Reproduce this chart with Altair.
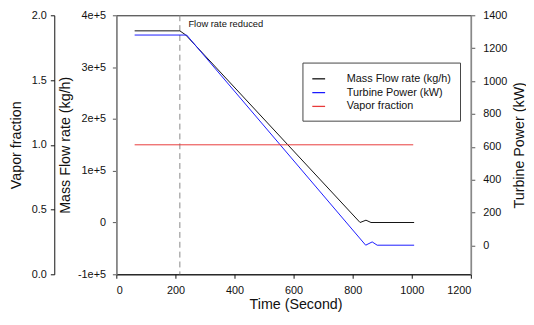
import altair as alt
import pandas as pd

# ---- data ----
series_names = ["Mass Flow rate (kg/h)", "Turbine Power (kW)", "Vapor fraction"]
series_colors = ["#111111", "#1a1aff", "#e83a3a"]

mass_time = [62, 215, 235, 825, 845, 862, 1008]
mass_flow = [370000, 370000, 362000, 0, 4500, 0, 0]

power_time = [62, 238, 844, 866, 883, 1008]
power_kw = [1280, 1280, 2, 22, 2, 2]

vapor_time = [62, 1005]
vapor_frac = [1.0, 1.0]

event_time = [215]
event_label = ["Flow rate reduced"]
event_text_time = [244]

x_ticks = [0, 200, 400, 600, 800, 1000, 1200]
mass_ticks = [-100000, 0, 100000, 200000, 300000, 400000]
vapor_ticks = [0.0, 0.5, 1.0, 1.5, 2.0]
power_ticks = [0, 200, 400, 600, 800, 1000, 1200, 1400]

df_mass = pd.DataFrame({"t": mass_time, "v": mass_flow, "series": series_names[0]})
df_power = pd.DataFrame({"t": power_time, "v": power_kw, "series": series_names[1]})
df_vapor = pd.DataFrame({"t": vapor_time, "v": vapor_frac, "series": series_names[2]})
df_event = pd.DataFrame({"t": event_time})
df_text = pd.DataFrame({"t": event_text_time, "label": event_label})

FONT = "Liberation Sans"
H = 263

x_enc = alt.X(
    "t:Q",
    scale=alt.Scale(domain=[0, 1200], nice=False),
    axis=alt.Axis(
        values=x_ticks, format="d", title="Time (Second)", grid=False,
        domainColor="#111", tickColor="#111", tickSize=4, labelPadding=7,
        titleBaseline="middle", titleX=182, titleY=31,
    ),
)

color_enc = alt.Color(
    "series:N",
    scale=alt.Scale(domain=series_names, range=series_colors),
    legend=alt.Legend(
        title=None, orient="none", legendX=189, legendY=48,
        symbolType="stroke", symbolSize=169, symbolStrokeWidth=1.3,
        strokeColor="#444", fillColor="white", padding=9,
        labelFontSize=11, labelFont=FONT, labelColor="#111",
        rowPadding=1, labelOffset=21,
    ),
)

mass = alt.Chart(df_mass).mark_line(strokeWidth=1).encode(
    x=x_enc,
    y=alt.Y(
        "v:Q",
        scale=alt.Scale(domain=[-100000, 400000], nice=False, zero=False),
        axis=alt.Axis(
            orient="left", values=mass_ticks, grid=False,
            title="Mass Flow rate (kg/h)",
            labelExpr="datum.value == 0 ? '0' : (datum.value < 0 ? '-' : '') + format(abs(datum.value), '.0e')",
            domainColor="#888", domainWidth=1.6, tickColor="#555", tickSize=4,
            labelPadding=7, titleBaseline="middle", titleX=-52, titleY=H / 2,
        ),
    ),
    color=color_enc,
)

power = alt.Chart(df_power).mark_line(strokeWidth=1).encode(
    x=x_enc,
    y=alt.Y(
        "v:Q",
        scale=alt.Scale(domain=[-175, 1400], nice=False, zero=False),
        axis=alt.Axis(
            orient="right", values=power_ticks, format="d", grid=False,
            title="Turbine Power (kW)",
            domainColor="#888", domainWidth=1.6, tickColor="#555", tickSize=4,
            labelPadding=8, titleBaseline="middle", titleAngle=270,
            titleX=49, titleY=H / 2,
        ),
    ),
    color=color_enc,
)

vapor = alt.Chart(df_vapor).mark_line(strokeWidth=1).encode(
    x=x_enc,
    y=alt.Y(
        "v:Q",
        scale=alt.Scale(domain=[0, 2], nice=False),
        axis=alt.Axis(
            orient="left", values=vapor_ticks, format=".1f", grid=False,
            title="Vapor fraction", offset=63,
            domainColor="#111", tickColor="#111", tickSize=4,
            labelPadding=4, titleBaseline="middle", titleX=-38, titleY=H / 2,
        ),
    ),
    color=color_enc,
)

event_rule = alt.Chart(df_event).mark_rule(
    color="#888", strokeDash=[6, 4], strokeWidth=1
).encode(x=alt.X("t:Q"))

event_text = alt.Chart(df_text).mark_text(
    align="left", baseline="middle", fontSize=9.5, font=FONT, color="#111"
).encode(x=alt.X("t:Q"), y=alt.value(9), text="label:N")

chart = (
    alt.layer(event_rule, mass, power, vapor, event_text)
    .resolve_scale(y="independent")
    .properties(
        width=360, height=H,
        autosize=alt.AutoSizeParams(type="none"),
        padding={"left": 110, "top": 5, "right": 56, "bottom": 45},
        background="white",
    )
    .configure_view(stroke="#222", strokeWidth=1)
    .configure_axis(
        labelFont=FONT, titleFont=FONT, labelFontSize=11, titleFontSize=14.5,
        titleFontWeight="normal", labelColor="#111", titleColor="#111",
    )
)

chart.save("out.html", embed_options={"renderer": "svg", "actions": False})
